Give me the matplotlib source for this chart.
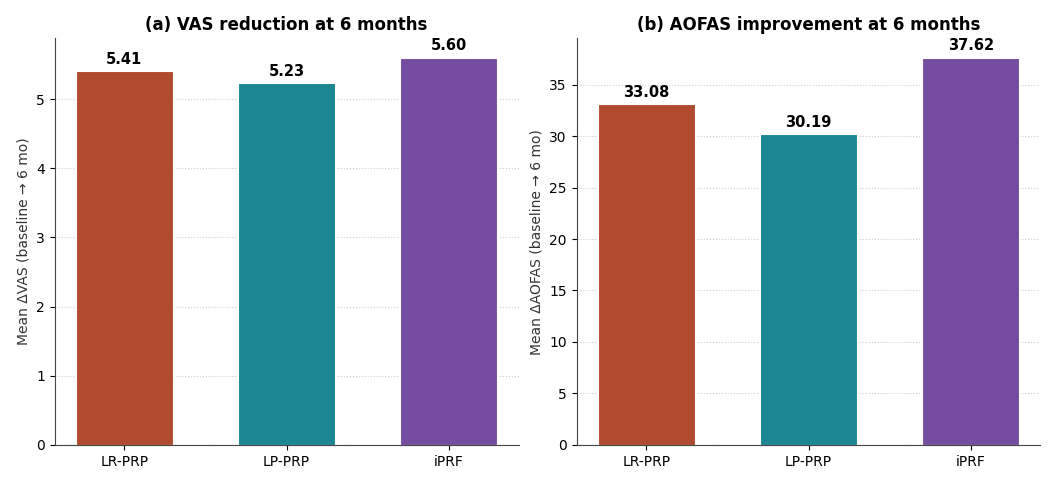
import numpy as np
import matplotlib
matplotlib.use('Agg')
import matplotlib.pyplot as plt

#data :
groups = ['LR-PRP', 'LP-PRP', 'iPRF']
vas_reduction = [5.41, 5.23, 5.60]
aofas_improvement = [33.08, 30.19, 37.62]
bar_colors = ['#B04B2F', '#1C8692', '#754CA0']

fig, axes = plt.subplots(1, 2, figsize=(10.51, 4.9), dpi=100)

def draw_panel(ax, values, title, ylabel):
    x = np.arange(len(groups))
    bars = ax.bar(x, values, width=0.6, color=bar_colors, edgecolor='white', linewidth=0.8, zorder=3)
    for b, v in zip(bars, values):
        ax.annotate(f'{v:.2f}', (b.get_x() + b.get_width() / 2, v),
                    xytext=(0, 3), textcoords='offset points',
                    ha='center', va='bottom', fontsize=10.5, fontweight='bold')
    ax.set_xticks(x)
    ax.set_xticklabels(groups, fontsize=10)
    ax.set_ylim(0, max(values) * 1.05)
    ax.set_title(title, fontsize=12, fontweight='bold')
    ax.set_ylabel(ylabel, fontsize=10, color='#333333')
    ax.tick_params(axis='y', labelsize=10)
    ax.grid(axis='y', linestyle=':', color='#cccccc', linewidth=0.8, zorder=0)
    ax.spines['top'].set_visible(False)
    ax.spines['right'].set_visible(False)
    for s in ['left', 'bottom']:
        ax.spines[s].set_color('#444444')

draw_panel(axes[0], vas_reduction, '(a) VAS reduction at 6 months',
           'Mean \u0394VAS (baseline \u2192 6 mo)')
draw_panel(axes[1], aofas_improvement, '(b) AOFAS improvement at 6 months',
           'Mean \u0394AOFAS (baseline \u2192 6 mo)')

fig.subplots_adjust(left=0.052, right=0.99, top=0.922, bottom=0.092, wspace=0.125)
fig.savefig('out.png', dpi=100)
